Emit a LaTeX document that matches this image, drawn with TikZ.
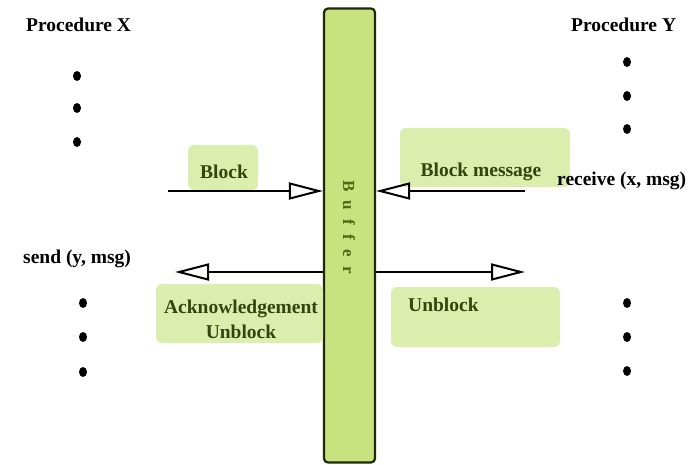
\documentclass[tikz,border=0pt]{standalone}
\usepackage{fontspec}
\setmainfont{Liberation Serif}
\usetikzlibrary{arrows.meta}
\definecolor{bufferfill}{HTML}{C8E27F}
\definecolor{bufferedge}{HTML}{1E2A05}
\definecolor{notefill}{HTML}{DCEEAE}
\definecolor{notetext}{HTML}{34440C}
\definecolor{buffertext}{HTML}{4E6A12}
\tikzset{
  x=1pt, y=-1pt,
  heading/.style={font=\fontsize{19.5}{22}\selectfont\bfseries, anchor=west, inner sep=0pt},
  dotmark/.style={ellipse, fill=black, minimum width=8pt, minimum height=10pt, inner sep=0pt},
  note/.style={fill=notefill, rounded corners=6pt, draw=none},
  notelabel/.style={font=\fontsize{19.5}{25}\selectfont\bfseries, text=notetext, inner sep=0pt, align=center},
  flow/.style={line width=1.8pt, -{Triangle[open, length=34pt, width=17pt, line width=2pt]}},
}
\usetikzlibrary{shapes.geometric}
\begin{document}
\begin{tikzpicture}
\useasboundingbox (0,0) rectangle (695,465);

% buffer column
\node[draw=bufferedge, line width=2.2pt, fill=bufferfill, rounded corners=4pt,
      minimum width=51pt, minimum height=454pt, inner sep=0pt] (buffer) at (349.5,235.5) {};
\node[rotate=-90, text=buffertext, inner sep=0pt,
      font=\fontsize{17}{18}\selectfont\bfseries\addfontfeature{LetterSpace=55}] (buflabel) at (349,227) {Buffer};

% notes
\node[note, minimum width=70pt, minimum height=45pt] (blk) at (223,167.5) {};
\node[notelabel] (blkt) at (224,172) {Block};
\node[note, minimum width=170pt, minimum height=59pt] (blkmsg) at (485,157.5) {};
\node[notelabel] (blkmsgt) at (481,172) {Block message};
\node[note, minimum width=167pt, minimum height=59pt] (ack) at (239.5,313.5) {};
\node[notelabel] (ackt) at (241,319) {Acknowledgement\\Unblock};
\node[note, minimum width=169pt, minimum height=60pt] (unb) at (475.5,317) {};
\node[notelabel, anchor=west] (unbt) at (408,305) {Unblock};

% headings
\node[heading] (px) at (26,25) {Procedure X};
\node[heading] (py) at (571,25) {Procedure Y};
\node[heading] (send) at (23,259) {send (y, msg)};
\node[heading] (recv) at (557,181) {receive (x, msg)};

% ellipsis dots
\foreach \n/\xx/\yy in {a1/77/76, a2/77/108, a3/77/142,
                        b1/83/303, b2/83/337, b3/83/372,
                        c1/627/62, c2/627/96, c3/627/129,
                        d1/627/303, d2/627/337, d3/627/371}
  \node[dotmark] (\n) at (\xx,\yy) {};

% connectors into and out of the buffer
\coordinate (s1) at (168,191);
\coordinate (s2) at (525,191);
\coordinate (e3) at (175,272);
\coordinate (e4) at (525,272);
\draw[flow] (s1) -- (s1 -| buffer.west);
\draw[flow] (s2) -- (s2 -| buffer.east);
\draw[flow] (e3 -| buffer.west) -- (e3);
\draw[flow] (e4 -| buffer.east) -- (e4);
\end{tikzpicture}
\end{document}
